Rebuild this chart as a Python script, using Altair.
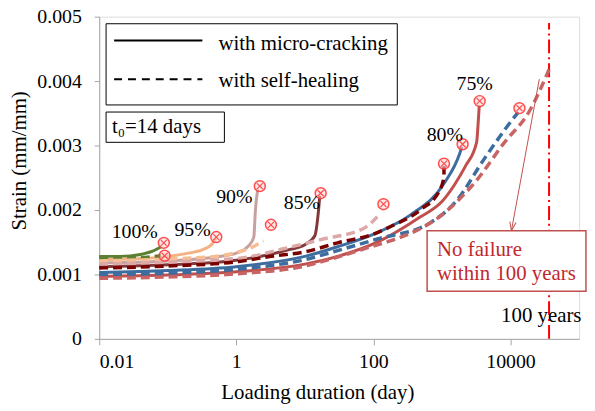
import altair as alt
import pandas as pd

FONT = "Liberation Serif"

# ---------------- data ----------------
# 100 % load level
g_mc_x = [0.01, 0.02, 0.04, 0.06, 0.08]
g_mc_y = [0.00128, 0.00128, 0.00131, 0.00136, 0.00143]
g_sh_x = [0.01, 0.04, 0.08]
g_sh_y = [0.00125, 0.00126, 0.00129]
# 95 %
p_mc_x = [0.01, 0.05, 0.1, 0.2, 0.35, 0.45, 0.5]
p_mc_y = [0.00123, 0.00125, 0.00128, 0.00133, 0.00140, 0.00148, 0.00156]
p_sh_x = [0.01, 0.1, 0.5, 1.0, 1.6, 2.5]
p_sh_y = [0.00121, 0.00124, 0.00128, 0.00134, 0.00141, 0.00152]
# 90 %
r9_mc_x = [0.01, 0.1, 0.5, 1.0, 1.5, 1.8, 1.9, 2.05]
r9_mc_y = [0.00118, 0.00121, 0.00127, 0.00133, 0.00144, 0.00158, 0.00200, 0.00232]
r9_sh_x = [0.01, 0.1, 1.3, 4.5, 17, 74, 126]
r9_sh_y = [0.00116, 0.00119, 0.00126, 0.00139, 0.00154, 0.00172, 0.00195]
# 85 %
m_mc_x = [0.01, 0.1, 1, 5.7, 10, 14, 15.5, 16.5]
m_mc_y = [0.00112, 0.00115, 0.00122, 0.00138, 0.00146, 0.00160, 0.00190, 0.00222]
d_sh_x = [0.01, 0.1, 1.07, 3.2, 10, 30, 103, 176, 480, 930, 1070, 1070]
d_sh_y = [0.00110, 0.00113, 0.00120, 0.00128, 0.00135, 0.00149, 0.00163, 0.00174,
          0.00200, 0.00231, 0.00252, 0.00268]
# 80 %
b_mc_x = [0.01, 0.1, 1, 10, 30, 114, 344, 1070, 1820, 1950]
b_mc_y = [0.00103, 0.00106, 0.00112, 0.00128, 0.00143, 0.00165, 0.00192, 0.00241,
          0.00288, 0.00298]
b_sh_x = [0.01, 0.1, 1, 10, 30, 114, 670, 1650, 4000, 8700, 13000]
b_sh_y = [0.00100, 0.00102, 0.00108, 0.00123, 0.00137, 0.00155, 0.00180, 0.00215,
          0.00277, 0.00328, 0.00352]
# 75 %
red_mc_x = [0.01, 0.1, 1, 10, 30, 114, 480, 1000, 1500, 2200, 3200, 3350, 3500]
red_mc_y = [0.00097, 0.00099, 0.00104, 0.00116, 0.00128, 0.00150, 0.00189, 0.00213,
            0.00238, 0.00268, 0.00305, 0.00330, 0.00362]
red_sh_x = [0.01, 0.1, 1, 10, 30, 114, 176, 1070, 3200, 7900, 19000, 36500]
red_sh_y = [0.00094, 0.00096, 0.00101, 0.00113, 0.00127, 0.00146, 0.00152, 0.00195,
            0.00246, 0.00303, 0.00354, 0.00418]

# failure markers
fail_x = [0.0875, 0.09, 0.51, 3.2, 2.2, 140, 17, 1070, 2000, 13500, 3550]
fail_y = [0.00149, 0.00129, 0.00158, 0.00177, 0.00237, 0.00209, 0.00226, 0.00272,
          0.00302, 0.00358, 0.00369]

# load level labels
lvl_text = ["100%", "95%", "90%", "85%", "80%", "75%"]
lvl_x = [0.033, 0.23, 0.935, 9.06, 1100, 3000]
lvl_y = [0.00166, 0.00169, 0.00220, 0.00211, 0.00317, 0.00395]

x_ticks = [0.01, 1, 100, 10000]
y_ticks = [0, 0.001, 0.002, 0.003, 0.004, 0.005]
hundred_years = 36500

series = [
    # (x, y, colour, dashed)
    (g_mc_x, g_mc_y, "#5B8031", False),
    (p_mc_x, p_mc_y, "#F4B183", False),
    (r9_mc_x, r9_mc_y, "#C9A0A0", False),
    (m_mc_x, m_mc_y, "#83393A", False),
    (b_mc_x, b_mc_y, "#3D6C9E", False),
    (red_mc_x, red_mc_y, "#C0504D", False),
    (g_sh_x, g_sh_y, "#5B8031", True),
    (p_sh_x, p_sh_y, "#F6BE93", True),
    (r9_sh_x, r9_sh_y, "#DDA8A8", True),
    (d_sh_x, d_sh_y, "#7A0000", True),
    (b_sh_x, b_sh_y, "#3D6C9E", True),
    (red_sh_x, red_sh_y, "#C86464", True),
]

xs = alt.Scale(type="log", domain=[0.01, 100000])
ys = alt.Scale(domain=[0, 0.005])

layers = []

# 100-year line
vline = pd.DataFrame({"x": [hundred_years], "y": [0], "y2": [0.0049]})
layers.append(
    alt.Chart(vline).mark_rule(color="#FF0000", strokeWidth=2, strokeDash=[14, 4, 2, 4]).encode(
        x=alt.X("x:Q", scale=xs,
                axis=alt.Axis(values=x_ticks, format="~g", title="Loading duration (day)",
                              grid=False, domainColor="#A6A6A6", tickColor="#A6A6A6",
                              tickSize=6, labelPadding=7, labelFont=FONT, labelFontSize=20,
                              labelColor="#000", titleFont=FONT, titleFontSize=21,
                              titleFontWeight="normal", titleColor="#000",
                              titleX=220, titleY=60, titleBaseline="alphabetic")),
        y=alt.Y("y:Q", scale=ys,
                axis=alt.Axis(values=y_ticks, format=".3~f", title="Strain (mm/mm)",
                              grid=False, domainColor="#A6A6A6", tickColor="#A6A6A6",
                              tickSize=5, labelPadding=13, labelFont=FONT, labelFontSize=20,
                              labelColor="#000", titleFont=FONT, titleFontSize=21,
                              titleFontWeight="normal", titleColor="#000",
                              titleX=-74, titleY=145, titleBaseline="alphabetic")),
        y2="y2:Q",
    )
)

for sx, sy, col, dashed in series:
    df = pd.DataFrame({"x": sx, "y": sy})
    kw = dict(color=col, strokeWidth=3, interpolate="monotone", strokeCap="butt")
    if dashed:
        kw["strokeDash"] = [9, 5]
        kw["strokeWidth"] = 3.5
    layers.append(alt.Chart(df).mark_line(**kw).encode(
        x=alt.X("x:Q", scale=xs), y=alt.Y("y:Q", scale=ys)))

fdf = pd.DataFrame({"x": fail_x, "y": fail_y})
layers.append(alt.Chart(fdf).mark_point(shape="circle", size=121, filled=True, fill="#FFD6D6",
                                         fillOpacity=0.6, stroke="#FF3B3B", strokeWidth=1.5,
                                         opacity=0.9).encode(
    x=alt.X("x:Q", scale=xs), y=alt.Y("y:Q", scale=ys)))
layers.append(alt.Chart(fdf).mark_point(shape="M-0.55,-0.55L0.55,0.55M-0.55,0.55L0.55,-0.55",
                                         size=121, filled=False, stroke="#FF3B3B",
                                         strokeWidth=1.2, opacity=0.9).encode(
    x=alt.X("x:Q", scale=xs), y=alt.Y("y:Q", scale=ys)))

ldf = pd.DataFrame({"x": lvl_x, "y": lvl_y, "t": lvl_text})
layers.append(alt.Chart(ldf).mark_text(font=FONT, fontSize=20, color="#000", align="center",
                                        baseline="middle").encode(
    x=alt.X("x:Q", scale=xs), y=alt.Y("y:Q", scale=ys), text="t:N"))

# legend box
lbox = pd.DataFrame({"x": [0.0126], "x2": [223], "y": [0.00489], "y2": [0.00363]})
layers.append(alt.Chart(lbox).mark_rect(fill="white", stroke="#000", strokeWidth=1).encode(
    x=alt.X("x:Q", scale=xs), x2="x2:Q", y=alt.Y("y:Q", scale=ys), y2="y2:Q"))
leg_lines = pd.DataFrame({"x": [0.0165], "x2": [0.32], "y": [0.00463]})
layers.append(alt.Chart(leg_lines).mark_rule(color="#000", strokeWidth=2).encode(
    x=alt.X("x:Q", scale=xs), x2="x2:Q", y=alt.Y("y:Q", scale=ys)))
leg_lines2 = pd.DataFrame({"x": [0.0165], "x2": [0.32], "y": [0.00403]})
layers.append(alt.Chart(leg_lines2).mark_rule(color="#000", strokeWidth=2, strokeDash=[8, 6]).encode(
    x=alt.X("x:Q", scale=xs), x2="x2:Q", y=alt.Y("y:Q", scale=ys)))
leg_text = pd.DataFrame({"x": [0.55, 0.55], "y": [0.00457, 0.00400],
                         "t": ["with micro-cracking", "with self-healing"]})
layers.append(alt.Chart(leg_text).mark_text(font=FONT, fontSize=21, color="#000", align="left",
                                             baseline="middle").encode(
    x=alt.X("x:Q", scale=xs), y=alt.Y("y:Q", scale=ys), text="t:N"))

# t0 box
tbox = pd.DataFrame({"x": [0.0126], "x2": [0.67], "y": [0.00352], "y2": [0.00305]})
layers.append(alt.Chart(tbox).mark_rect(fill="white", stroke="#000", strokeWidth=1).encode(
    x=alt.X("x:Q", scale=xs), x2="x2:Q", y=alt.Y("y:Q", scale=ys), y2="y2:Q"))
ttext = pd.DataFrame({"x": [0.0154], "y": [0.00329], "t": ["t₀=14 days"]})
layers.append(alt.Chart(ttext).mark_text(font=FONT, fontSize=21, color="#000", align="left",
                                          baseline="middle").encode(
    x=alt.X("x:Q", scale=xs), y=alt.Y("y:Q", scale=ys), text="t:N"))

# annotation: arrow + box
arrow = pd.DataFrame({"x": [26300, 10300], "y": [0.00403, 0.001677]})
layers.append(alt.Chart(arrow).mark_line(color="#C0504D", strokeWidth=1).encode(
    x=alt.X("x:Q", scale=xs), y=alt.Y("y:Q", scale=ys)))
ahead = pd.DataFrame({"x": [10300], "y": [0.001677]})
layers.append(alt.Chart(ahead).mark_point(shape="M-0.35,-1L0,0L0.35,-1", size=324, angle=10,
                                           filled=False, stroke="#C0504D", strokeWidth=1,
                                           opacity=1).encode(
    x=alt.X("x:Q", scale=xs), y=alt.Y("y:Q", scale=ys)))
abox = pd.DataFrame({"x": [607], "x2": [126000], "y": [0.001677], "y2": [0.000738]})
layers.append(alt.Chart(abox).mark_rect(fill="white", stroke="#C0504D", strokeWidth=1.5).encode(
    x=alt.X("x:Q", scale=xs), x2="x2:Q", y=alt.Y("y:Q", scale=ys), y2="y2:Q"))
atext = pd.DataFrame({"x": [848, 848], "y": [0.00138, 0.00100],
                      "t": ["No failure", "within 100 years"]})
layers.append(alt.Chart(atext).mark_text(font=FONT, fontSize=21, color="#C0282D", align="left",
                                          baseline="middle").encode(
    x=alt.X("x:Q", scale=xs), y=alt.Y("y:Q", scale=ys), text="t:N"))
ytext = pd.DataFrame({"x": [28100], "y": [0.00035], "t": ["100 years"]})
layers.append(alt.Chart(ytext).mark_text(font=FONT, fontSize=21, color="#000", align="center",
                                          baseline="middle").encode(
    x=alt.X("x:Q", scale=xs), y=alt.Y("y:Q", scale=ys), text="t:N"))

chart = alt.layer(*layers).properties(
    width=484, height=325,
    autosize=alt.AutoSizeParams(type="none"),
    padding={"left": 92, "top": 7, "right": 8, "bottom": 69},
).configure_view(stroke=None).configure(background="white")

chart.save("out.html", embed_options={"renderer": "svg", "actions": False})
